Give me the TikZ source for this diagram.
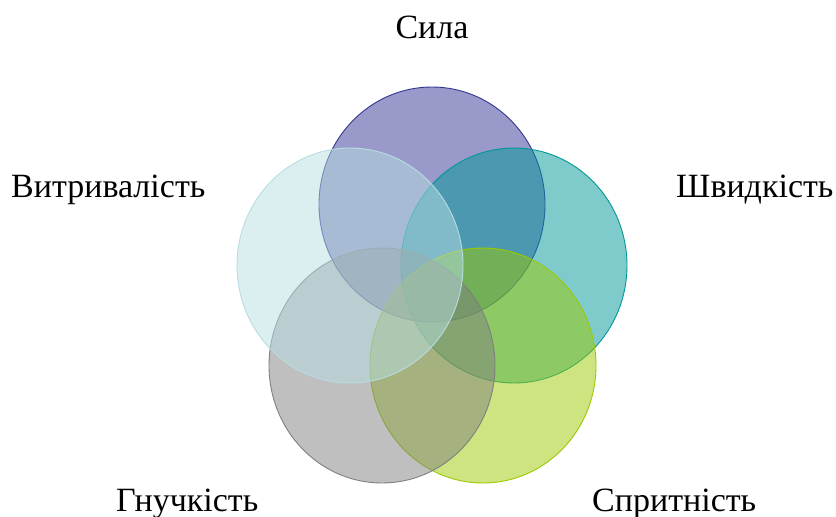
\documentclass[tikz,border=0pt]{standalone}
\usepackage{fontspec}
\setmainfont{Liberation Serif}
\usetikzlibrary{shapes.geometric}
\definecolor{cpurple}{RGB}{53,53,149}
\definecolor{cteal}{RGB}{0,151,151}
\definecolor{clime}{RGB}{155,201,1}
\definecolor{cgray}{RGB}{127,127,127}
\definecolor{clblue}{RGB}{183,221,225}
\tikzset{
  petal/.style={ellipse, inner sep=0pt, minimum width=226pt, minimum height=235pt,
    line width=0.9pt, fill opacity=0.5, draw opacity=1},
  lbl/.style={inner sep=0pt, font=\fontsize{34}{40}\selectfont, text=black}
}
\begin{document}
\begin{tikzpicture}[x=1pt,y=-1pt]
\useasboundingbox (0,0) rectangle (836,517);
\node[petal, draw=cpurple, fill=cpurple] (sila) at (432,204.5) {};
\node[petal, draw=cteal, fill=cteal] (shv) at (514,265.5) {};
\node[petal, draw=clime, fill=clime] (spr) at (483,365.5) {};
\node[petal, draw=cgray, fill=cgray] (gn) at (382,365.5) {};
\node[petal, draw=clblue, fill=clblue] (vyt) at (350,265.5) {};
\node[lbl, anchor=base] (tsila) at (432,38) {Сила};
\node[lbl, anchor=base west] (tvyt) at (11,197) {Витривалість};
\node[lbl, anchor=base west] (tshv) at (676,197) {Швидкість};
\node[lbl, anchor=base west] (tgn) at (116,511) {Гнучкість};
\node[lbl, anchor=base west] (tspr) at (592,511) {Спритність};
\end{tikzpicture}
\end{document}
